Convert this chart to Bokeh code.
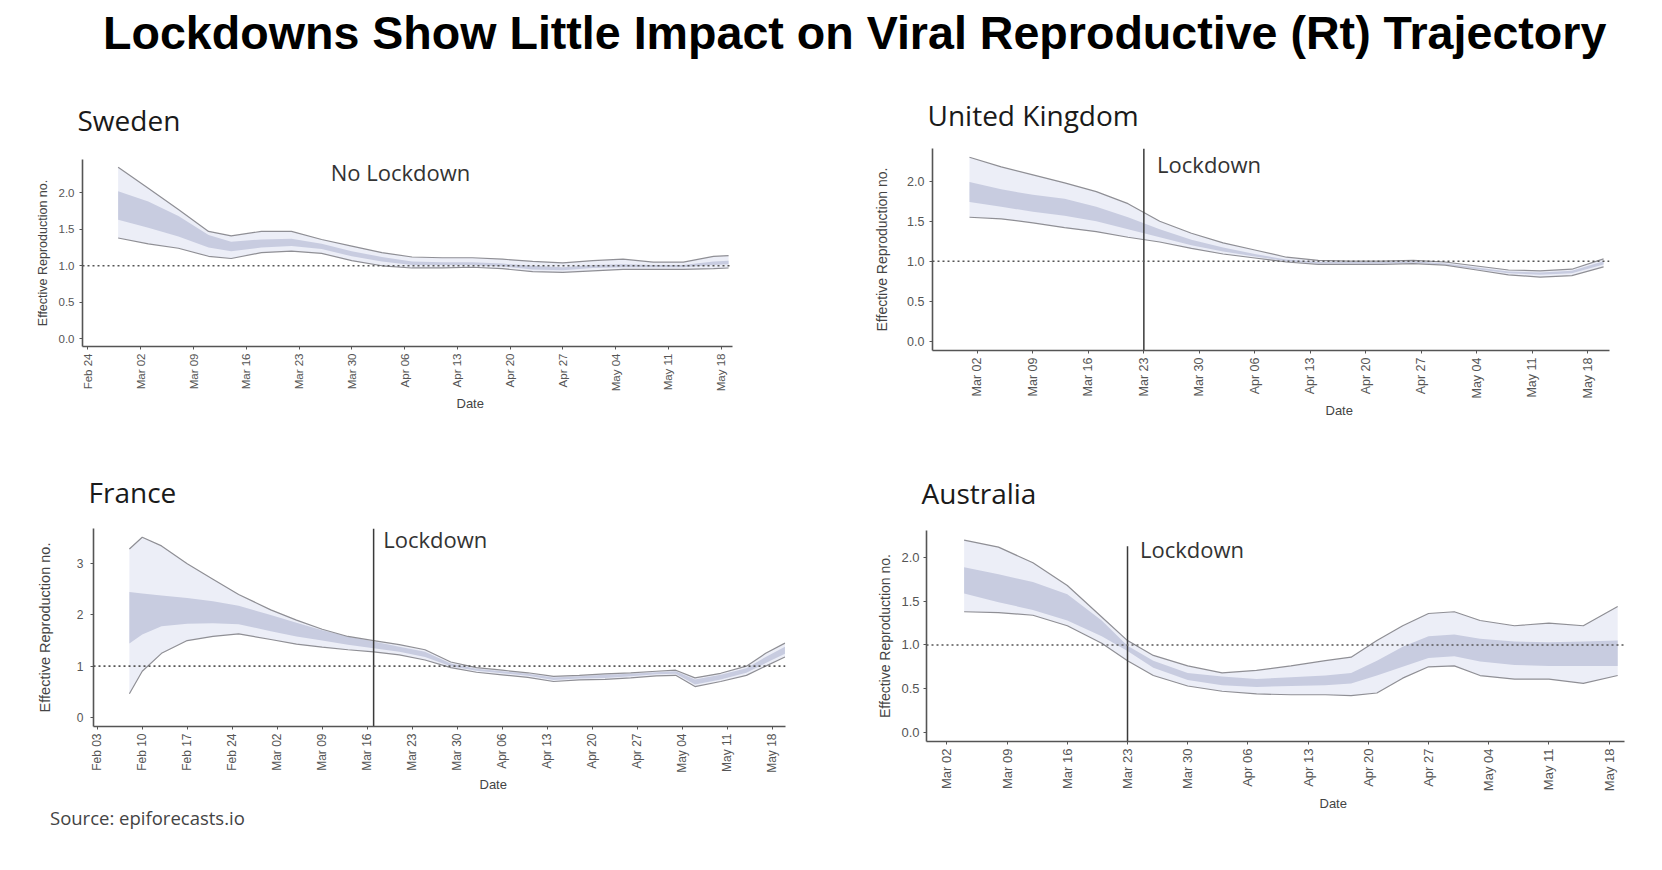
import pandas as pd
from bokeh.plotting import figure
from bokeh.models import (Range1d, FixedTicker, Span, Label, Div, Title,
                          NumeralTickFormatter, DatetimeTickFormatter)
from bokeh.layouts import column, row
from bokeh.embed import file_html
from bokeh.resources import INLINE

# ---------------- data ----------------
swe_dates = ["2020-02-28", "2020-03-03", "2020-03-07", "2020-03-11", "2020-03-14", "2020-03-18",
             "2020-03-22", "2020-03-26", "2020-03-30", "2020-04-03", "2020-04-07", "2020-04-11",
             "2020-04-15", "2020-04-19", "2020-04-23", "2020-04-27", "2020-05-01", "2020-05-05",
             "2020-05-09", "2020-05-13", "2020-05-17", "2020-05-19"]
swe_outer_hi = [2.35, 2.06, 1.77, 1.47, 1.41, 1.47, 1.47, 1.36, 1.27, 1.18, 1.12, 1.11,
                1.11, 1.09, 1.06, 1.04, 1.07, 1.09, 1.05, 1.05, 1.13, 1.14]
swe_outer_lo = [1.38, 1.30, 1.24, 1.13, 1.10, 1.18, 1.20, 1.17, 1.07, 1.00, 0.97, 0.97,
                0.98, 0.96, 0.92, 0.91, 0.93, 0.95, 0.95, 0.95, 0.96, 0.97]
swe_inner_hi = [2.02, 1.88, 1.68, 1.42, 1.33, 1.36, 1.37, 1.30, 1.20, 1.12, 1.06, 1.05,
                1.05, 1.03, 1.00, 0.98, 1.01, 1.02, 1.01, 1.01, 1.06, 1.07]
swe_inner_lo = [1.63, 1.52, 1.40, 1.25, 1.20, 1.25, 1.27, 1.23, 1.13, 1.06, 1.01, 1.01,
                1.01, 0.99, 0.95, 0.94, 0.97, 0.98, 0.98, 0.98, 1.01, 1.02]
swe_ticks = ["Feb 24", "Mar 02", "Mar 09", "Mar 16", "Mar 23", "Mar 30", "Apr 06",
             "Apr 13", "Apr 20", "Apr 27", "May 04", "May 11", "May 18"]

uk_dates = ["2020-03-01", "2020-03-05", "2020-03-09", "2020-03-13", "2020-03-17", "2020-03-21",
            "2020-03-25", "2020-03-29", "2020-04-02", "2020-04-06", "2020-04-10", "2020-04-14",
            "2020-04-18", "2020-04-22", "2020-04-26", "2020-04-30", "2020-05-04", "2020-05-08",
            "2020-05-12", "2020-05-16", "2020-05-20"]
uk_outer_hi = [2.30, 2.18, 2.08, 1.98, 1.87, 1.72, 1.50, 1.35, 1.23, 1.14, 1.05, 1.01,
               1.00, 1.00, 1.01, 0.99, 0.94, 0.89, 0.88, 0.90, 1.03]
uk_outer_lo = [1.55, 1.53, 1.48, 1.42, 1.37, 1.30, 1.24, 1.16, 1.09, 1.04, 0.99, 0.96,
               0.96, 0.96, 0.97, 0.95, 0.89, 0.83, 0.80, 0.82, 0.93]
uk_inner_hi = [1.99, 1.90, 1.83, 1.78, 1.68, 1.55, 1.40, 1.27, 1.17, 1.09, 1.02, 0.99,
               0.99, 0.99, 1.00, 0.97, 0.92, 0.87, 0.86, 0.88, 1.00]
uk_inner_lo = [1.74, 1.68, 1.62, 1.57, 1.50, 1.40, 1.30, 1.20, 1.12, 1.06, 1.00, 0.97,
               0.97, 0.97, 0.98, 0.96, 0.90, 0.85, 0.83, 0.85, 0.96]
uk_ticks = ["Mar 02", "Mar 09", "Mar 16", "Mar 23", "Mar 30", "Apr 06", "Apr 13",
            "Apr 20", "Apr 27", "May 04", "May 11", "May 18"]
uk_lockdown = "2020-03-23"

fr_dates = ["2020-02-08", "2020-02-10", "2020-02-13", "2020-02-17", "2020-02-21", "2020-02-25",
            "2020-03-01", "2020-03-05", "2020-03-09", "2020-03-13", "2020-03-17", "2020-03-21",
            "2020-03-25", "2020-03-29", "2020-04-02", "2020-04-06", "2020-04-10", "2020-04-14",
            "2020-04-18", "2020-04-22", "2020-04-26", "2020-04-30", "2020-05-03", "2020-05-06",
            "2020-05-10", "2020-05-14", "2020-05-17", "2020-05-20"]
fr_outer_hi = [3.29, 3.52, 3.35, 3.00, 2.70, 2.40, 2.10, 1.90, 1.72, 1.58, 1.50, 1.42, 1.32, 1.08,
               0.97, 0.92, 0.87, 0.80, 0.82, 0.85, 0.87, 0.90, 0.92, 0.77, 0.86, 1.00, 1.25, 1.45]
fr_outer_lo = [0.46, 0.90, 1.25, 1.50, 1.58, 1.63, 1.52, 1.43, 1.37, 1.32, 1.28, 1.22, 1.12, 0.97,
               0.88, 0.83, 0.78, 0.70, 0.73, 0.74, 0.77, 0.81, 0.82, 0.60, 0.70, 0.82, 1.00, 1.18]
fr_inner_hi = [2.45, 2.42, 2.38, 2.33, 2.27, 2.18, 2.00, 1.85, 1.70, 1.58, 1.48, 1.38, 1.28, 1.05,
               0.95, 0.90, 0.85, 0.78, 0.80, 0.83, 0.85, 0.88, 0.90, 0.74, 0.83, 0.96, 1.18, 1.38]
fr_inner_lo = [1.44, 1.62, 1.78, 1.83, 1.84, 1.82, 1.68, 1.58, 1.50, 1.42, 1.35, 1.28, 1.18, 1.00,
               0.91, 0.86, 0.81, 0.73, 0.76, 0.77, 0.80, 0.84, 0.85, 0.64, 0.74, 0.87, 1.06, 1.24]
fr_ticks = ["Feb 03", "Feb 10", "Feb 17", "Feb 24", "Mar 02", "Mar 09", "Mar 16", "Mar 23",
            "Mar 30", "Apr 06", "Apr 13", "Apr 20", "Apr 27", "May 04", "May 11", "May 18"]
fr_lockdown = "2020-03-17"

au_dates = ["2020-03-04", "2020-03-08", "2020-03-12", "2020-03-16", "2020-03-20", "2020-03-23",
            "2020-03-26", "2020-03-30", "2020-04-03", "2020-04-07", "2020-04-11", "2020-04-15",
            "2020-04-18", "2020-04-21", "2020-04-24", "2020-04-27", "2020-04-30", "2020-05-03",
            "2020-05-07", "2020-05-11", "2020-05-15", "2020-05-19"]
au_outer_hi = [2.20, 2.12, 1.94, 1.68, 1.32, 1.05, 0.88, 0.76, 0.68, 0.71, 0.76, 0.82,
               0.86, 1.05, 1.22, 1.36, 1.38, 1.28, 1.22, 1.25, 1.22, 1.44]
au_outer_lo = [1.38, 1.37, 1.34, 1.22, 1.02, 0.82, 0.65, 0.53, 0.47, 0.44, 0.43, 0.43,
               0.42, 0.45, 0.62, 0.75, 0.76, 0.65, 0.61, 0.61, 0.56, 0.65]
au_inner_hi = [1.89, 1.81, 1.72, 1.58, 1.28, 0.99, 0.82, 0.68, 0.64, 0.61, 0.63, 0.65,
               0.68, 0.82, 0.98, 1.10, 1.12, 1.07, 1.04, 1.03, 1.04, 1.05]
au_inner_lo = [1.59, 1.49, 1.40, 1.28, 1.10, 0.93, 0.74, 0.60, 0.54, 0.52, 0.53, 0.54,
               0.56, 0.65, 0.75, 0.85, 0.87, 0.81, 0.77, 0.76, 0.76, 0.76]
au_ticks = ["Mar 02", "Mar 09", "Mar 16", "Mar 23", "Mar 30", "Apr 06", "Apr 13",
            "Apr 20", "Apr 27", "May 04", "May 11", "May 18"]
au_lockdown = "2020-03-23"

y_ticks_small = [0.0, 0.5, 1.0, 1.5, 2.0]
y_ticks_fr = [0, 1, 2, 3]

# ---------------- styling ----------------
OUTER = "#eceef7"
INNER = "#c8cce0"
EDGE = "#8f8f95"
AXIS = "#555555"
FONT = "Liberation Sans"
TITLE_FONT = "Open Sans"


def tick_ms(labels):
    return [pd.to_datetime(l + " 2020", format="%b %d %Y").value / 1e6 for l in labels]


def panel(name, dates, ohi, olo, ihi, ilo, ticks, yticks, yfmt, xr, yr,
          width, height, mbl, mbt, mbr, mbb, tick_fs, ylab_fs, tick_so, ylab_so, title_so,
          date_offset):
    p = figure(width=width, height=height, x_axis_type="datetime",
               x_range=Range1d(pd.Timestamp(xr[0]), pd.Timestamp(xr[1])),
               y_range=Range1d(yr[0], yr[1]),
               output_backend="svg", toolbar_location=None, tools="",
               min_border_left=mbl, min_border_top=mbt, min_border_right=mbr,
               min_border_bottom=mbb, title=name)
    x = pd.to_datetime(dates)
    p.varea(x=x, y1=olo, y2=ohi, fill_color=OUTER)
    p.varea(x=x, y1=ilo, y2=ihi, fill_color=INNER)
    p.line(x=x, y=ohi, line_color=EDGE, line_width=1.2)
    p.line(x=x, y=olo, line_color=EDGE, line_width=1.2)
    p.add_layout(Span(location=1, dimension="width", line_color="#555555",
                      line_dash="2 3", line_width=1.6))
    p.outline_line_color = None
    p.grid.visible = False
    p.background_fill_color = "white"
    p.border_fill_color = "white"

    p.xaxis.ticker = FixedTicker(ticks=tick_ms(ticks))
    p.xaxis.formatter = DatetimeTickFormatter(days="%b %d", months="%b %d", hours="%b %d")
    p.xaxis.major_label_orientation = 3.14159265 / 2
    p.yaxis.ticker = FixedTicker(ticks=yticks)
    p.yaxis.formatter = NumeralTickFormatter(format=yfmt)
    for ax in (p.xaxis, p.yaxis):
        ax.axis_line_color = AXIS
        ax.axis_line_width = 1.6
        ax.major_tick_line_color = AXIS
        ax.major_tick_in = 0
        ax.major_tick_out = 3
        ax.minor_tick_line_color = None
        ax.major_label_text_font = FONT
        ax.major_label_text_font_size = tick_fs
        ax.major_label_text_color = "#555555"
        ax.axis_label_text_font = FONT
        ax.axis_label_text_font_style = "normal"
        ax.axis_label_text_color = "#444444"
    p.xaxis.major_label_standoff = 4
    p.yaxis.major_label_standoff = tick_so
    p.yaxis.axis_label = "Effective Reproduction no."
    p.yaxis.axis_label_text_font_size = ylab_fs
    p.yaxis.axis_label_standoff = ylab_so

    p.title.text_font = TITLE_FONT
    p.title.text_font_size = "28px"
    p.title.text_font_style = "normal"
    p.title.text_color = "#1a1a1a"
    p.title.align = "left"
    p.title.offset = -5
    p.title.standoff = title_so

    # x-axis title "Date", sits below the tick labels, right of centre as in the source
    p.add_layout(Title(text="Date", align="left", offset=date_offset, vertical_align="top",
                       text_font=FONT, text_font_size="13px", text_font_style="normal",
                       text_color="#444444", standoff=2), "below")
    return p


def note(p, text, x, y):
    p.add_layout(Label(x=pd.Timestamp(x), y=y, text=text, text_font=TITLE_FONT,
                       text_font_size="22px", text_color="#333333"))


def lockdown_line(p, day, y0, y1):
    d = pd.to_datetime([day])
    p.segment(x0=d, y0=[y0], x1=d, y1=[y1], line_color="#3a3a3a", line_width=1.5)


swe = panel("Sweden", swe_dates, swe_outer_hi, swe_outer_lo, swe_inner_hi, swe_inner_lo,
            swe_ticks, y_ticks_small, "0.0", ("2020-02-23 06:30", "2020-05-19 12:30"),
            (-0.105, 2.455), 870, 338, 82, 80, 138, 70, "11.5px", "12.5px", 5, 6, 41, 374)
note(swe, "No Lockdown", "2020-03-27 05:00", 2.08)

uk = panel("United Kingdom", uk_dates, uk_outer_hi, uk_outer_lo, uk_inner_hi, uk_inner_lo,
           uk_ticks, y_ticks_small, "0.0", ("2020-02-25 08:00", "2020-05-20 18:00"),
           (-0.117, 2.41), 759, 344, 62, 70, 20, 72, "12.5px", "14px", 5, 14, 29, 393)
lockdown_line(uk, uk_lockdown, -0.117, 2.41)
note(uk, "Lockdown", "2020-03-24 16:00", 2.03)

fr = panel("France", fr_dates, fr_outer_hi, fr_outer_lo, fr_inner_hi, fr_inner_lo,
           fr_ticks, y_ticks_fr, "0", ("2020-02-02 10:00", "2020-05-20 02:00"),
           (-0.18, 3.69), 864, 374, 93, 106, 79, 70, "12px", "14.5px", 7, 21, 35, 386)
lockdown_line(fr, fr_lockdown, -0.18, 3.69)
note(fr, "Lockdown", "2020-03-18 12:00", 3.20)

au = panel("Australia", au_dates, au_outer_hi, au_outer_lo, au_inner_hi, au_inner_lo,
           au_ticks, y_ticks_small, "0.0", ("2020-02-28 15:00", "2020-05-19 19:00"),
           (-0.105, 2.31), 780, 391, 62, 108, 20, 70, "13px", "14px", 4, 5, 37, 393)
lockdown_line(au, au_lockdown, -0.105, 2.13)
note(au, "Lockdown", "2020-03-24 11:00", 1.93)

title = Div(text='<div style="font-family:\'Liberation Sans\',Arial,sans-serif;font-weight:bold;'
                 'font-size:46.6px;line-height:46px;color:#000;padding-left:98px;padding-top:5px;'
                 'white-space:nowrap;">'
                 'Lockdowns Show Little Impact on Viral Reproductive (Rt) Trajectory</div>',
            width=1646, height=68)
source = Div(text='<div style="font-family:\'Open Sans\',sans-serif;font-size:18.5px;line-height:22px;'
                  'color:#444;padding-left:45px;padding-top:6px;white-space:nowrap;">'
                  'Source: epiforecasts.io</div>',
             width=600, height=36)

layout = column(title,
                row(column(swe), column(uk)),
                row(column(fr, source), column(au)))
open("out.html", "w").write(file_html(layout, INLINE))
